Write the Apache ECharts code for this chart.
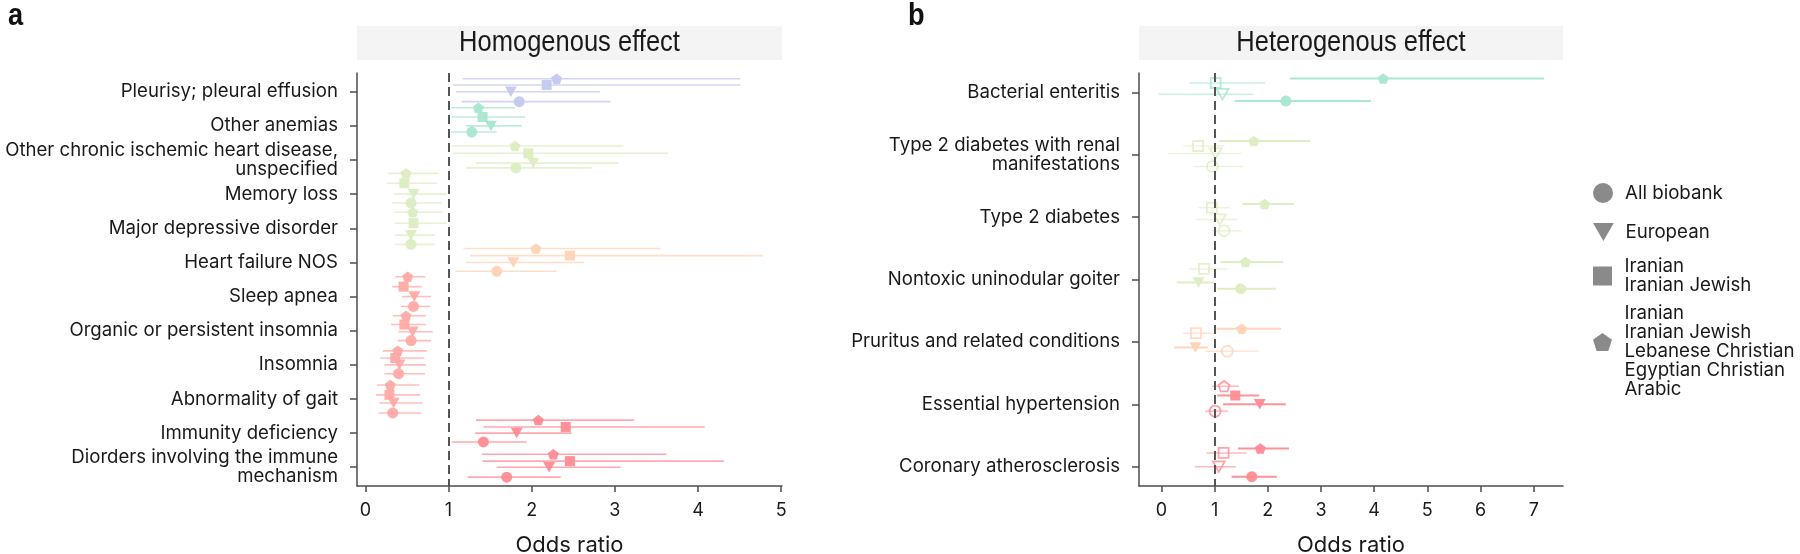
<!DOCTYPE html>
<html><head><meta charset="utf-8">
<script src="https://cdn.jsdelivr.net/npm/echarts@6/dist/echarts.min.js"></script>
<style>html,body{margin:0;padding:0;background:#fff}#c{width:1800px;height:554px}</style>
</head><body><div id="c"></div><script>
// ---------- categories ----------
const catsA = ['Pleurisy; pleural effusion','Other anemias','Other chronic ischemic heart disease,\nunspecified','Memory loss','Major depressive disorder','Heart failure NOS','Sleep apnea','Organic or persistent insomnia','Insomnia','Abnormality of gait','Immunity deficiency','Diorders involving the immune\nmechanism'];
const catsB = ['Bacterial enteritis','Type 2 diabetes with renal\nmanifestations','Type 2 diabetes','Nontoxic uninodular goiter','Pruritus and related conditions','Essential hypertension','Coronary atherosclerosis'];
const groupNames = ['All biobank','European','Iranian\nIranian Jewish','Iranian\nIranian Jewish\nLebanese Christian\nEgyptian Christian\nArabic'];
const xTicksA = [0,1,2,3,4,5];
const xTicksB = [0,1,2,3,4,5,6,7];
const panelTitles = ['Homogenous effect','Heterogenous effect'];
const panelLetters = ['a','b'];

// colour group per category (index into palette)
const colA = [0,1,2,2,2,3,4,4,4,4,5,5];
const colB = [1,2,2,2,3,5,5];

// ---------- panel a (homogenous) ----------
const aCircleOR = [1.85,1.28,1.81,0.55,0.55,1.58,0.58,0.55,0.40,0.33,1.42,1.70];
const aCircleLo = [1.16,1.03,1.21,0.32,0.36,1.08,0.43,0.39,0.23,0.16,1.04,1.23];
const aCircleHi = [2.95,1.58,2.72,0.92,0.84,2.30,0.78,0.79,0.72,0.67,1.94,2.35];
const aCircleDy = [0.29,0.18,0.23,0.26,0.47,0.26,0.29,0.29,0.26,0.41,0.26,0.29];

const aTriOR = [1.75,1.51,2.02,0.58,0.55,1.78,0.59,0.57,0.41,0.34,1.82,2.21];
const aTriLo = [1.09,1.21,1.33,0.34,0.36,1.21,0.44,0.40,0.23,0.17,1.32,1.58];
const aTriHi = [2.82,1.88,3.04,0.98,0.84,2.63,0.79,0.81,0.73,0.69,2.48,3.07];
const aTriDy = [0,0,0.09,0,0.20,0,0,0.03,0,0.12,0,0];

const aSqOR = [2.18,1.41,1.96,0.47,0.58,2.46,0.46,0.47,0.36,0.29,2.41,2.46];
const aSqLo = [1.05,1.04,1.05,0.26,0.35,1.26,0.32,0.31,0.18,0.13,1.42,1.41];
const aSqHi = [4.51,1.92,3.64,0.86,0.98,4.78,0.68,0.73,0.71,0.66,4.08,4.31];
const aSqDy = [-0.20,-0.26,-0.20,-0.32,-0.15,-0.20,-0.29,-0.18,-0.20,-0.12,-0.18,-0.18];

const aPentOR = [2.30,1.36,1.80,0.49,0.57,2.05,0.51,0.49,0.39,0.30,2.08,2.26];
const aPentLo = [1.17,1.03,1.04,0.27,0.35,1.18,0.36,0.33,0.21,0.14,1.33,1.40];
const aPentHi = [4.51,1.80,3.10,0.88,0.93,3.55,0.72,0.73,0.74,0.65,3.23,3.62];
const aPentDy = [-0.38,-0.53,-0.41,-0.61,-0.47,-0.41,-0.58,-0.44,-0.41,-0.41,-0.38,-0.38];

// ---------- panel b (heterogenous) ; sig: 1 = filled, 0 = hollow ----------
const bCircleOR = [2.34,0.96,1.18,1.49,1.24,1.01,1.70];
const bCircleLo = [1.38,0.61,0.94,1.05,0.83,0.82,1.32];
const bCircleHi = [3.94,1.53,1.51,2.15,1.83,1.25,2.17];
const bCircleDy = [0.14,0.19,0.22,0.15,0.15,0.11,0.16];
const bCircleSig = [1,0,0,1,0,0,1];

const bTriOR = [1.15,1.02,1.10,0.70,0.64,1.85,1.08];
const bTriLo = [-0.05,0.12,0.66,0.29,0.24,1.16,0.63];
const bTriHi = [1.73,1.51,1.42,0.99,0.88,2.34,1.40];
const bTriDy = [0.03,-0.02,0.04,0.05,0.09,0,0];
const bTriSig = [0,0,0,1,1,1,0];

const bSqOR = [1.02,0.69,0.95,0.80,0.65,1.39,1.17];
const bSqLo = [0.54,0.41,0.70,0.52,0.41,1.05,0.85];
const bSqHi = [1.95,1.19,1.29,1.24,1.00,1.84,1.60];
const bSqDy = [-0.15,-0.14,-0.15,-0.17,-0.14,-0.14,-0.22];
const bSqSig = [0,0,0,0,0,1,0];

const bPentOR = [4.17,1.74,1.94,1.58,1.51,1.18,1.86];
const bPentLo = [2.42,1.09,1.53,1.11,1.04,0.95,1.44];
const bPentHi = [7.19,2.80,2.49,2.29,2.25,1.46,2.40];
const bPentDy = [-0.22,-0.22,-0.21,-0.28,-0.21,-0.29,-0.29];
const bPentSig = [1,1,1,1,1,0,1];

// ---------- styles ----------
const PAL = ['#c4c8ee','#a8e6cf','#dcedc1','#ffd3b6','#ffaaa5','#ff8b94'];
const FONT = 'Inter';
const AX = '#4d4d4d';
const SYM = {
  circle: {symbol:'circle', size:11},
  tri: {symbol:'path://M0,0L20,0L10,17.3Z', size:[12,10.5]},
  square: {symbol:'rect', size:10},
  pent: {symbol:'path://M50,0L100,36.3L80.9,95.1L19.1,95.1L0,36.3Z', size:[11,10.5]}
};

const groupsA = [
  {name:groupNames[3], shape:'pent', or:aPentOR, lo:aPentLo, hi:aPentHi, dy:aPentDy},
  {name:groupNames[2], shape:'square', or:aSqOR, lo:aSqLo, hi:aSqHi, dy:aSqDy},
  {name:groupNames[1], shape:'tri', or:aTriOR, lo:aTriLo, hi:aTriHi, dy:aTriDy},
  {name:groupNames[0], shape:'circle', or:aCircleOR, lo:aCircleLo, hi:aCircleHi, dy:aCircleDy}
];
const groupsB = [
  {name:groupNames[3], shape:'pent', or:bPentOR, lo:bPentLo, hi:bPentHi, dy:bPentDy, sig:bPentSig},
  {name:groupNames[2], shape:'square', or:bSqOR, lo:bSqLo, hi:bSqHi, dy:bSqDy, sig:bSqSig},
  {name:groupNames[1], shape:'tri', or:bTriOR, lo:bTriLo, hi:bTriHi, dy:bTriDy, sig:bTriSig},
  {name:groupNames[0], shape:'circle', or:bCircleOR, lo:bCircleLo, hi:bCircleHi, dy:bCircleDy, sig:bCircleSig}
];

function errData(groups, cols, panel) {
  const out = [];
  groups.forEach(g => g.or.forEach((_, i) => {
    out.push([g.lo[i], g.hi[i], i + 1 + g.dy[i], cols[i], g.sig ? g.sig[i] : 1, panel]);
  }));
  return out;
}
function errSeries(groups, cols, k) {
  return {
    type:'custom', xAxisIndex:k, yAxisIndex:k, z:2, silent:true, clip:true,
    encode:{x:[0,1], y:2},
    data: errData(groups, cols, k),
    renderItem(params, api) {
      const y = api.value(2);
      const a = api.coord([api.value(0), y]);
      const b = api.coord([api.value(1), y]);
      const sig = api.value(4);
      const pb = api.value(5) === 1;
      return {type:'line', shape:{x1:a[0], y1:a[1], x2:b[0], y2:b[1]},
        style:{stroke: PAL[api.value(3)], lineWidth: pb ? (sig ? 2 : 1.5) : 1.6, opacity: pb ? (sig ? 0.95 : 0.6) : 0.75}};
    }
  };
}
function scatterSeries(g, cols, k) {
  const s = SYM[g.shape];
  return {
    type:'scatter', name:g.name, xAxisIndex:k, yAxisIndex:k, z:3,
    symbol:s.symbol, symbolSize:s.size, silent:true,
    data: g.or.map((v, i) => {
      const c = PAL[cols[i]];
      const filled = g.sig ? g.sig[i] === 1 : true;
      return {value:[v, i + 1 + g.dy[i]],
        itemStyle: filled ? {color:c, opacity:0.95} : {color:'rgba(255,255,255,0)', borderColor:c, borderWidth:1.8}};
    })
  };
}
function refLine(k) {
  return {type:'scatter', xAxisIndex:k, yAxisIndex:k, data:[], z:1, silent:true,
    markLine:{silent:true, symbol:'none', label:{show:false},
      lineStyle:{color:'#555', width:2, type:[9,5]}, data:[{xAxis:1}]}};
}
function xAxis(k, min, max, ticks) {
  return {type:'value', gridIndex:k, min, max, splitLine:{show:false},
    axisLine:{lineStyle:{color:AX, width:1.5}},
    axisTick:{customValues:ticks, length:6, lineStyle:{color:AX, width:1.5}},
    axisLabel:{customValues:ticks, margin:16, color:'#1a1a1a', fontFamily:FONT, fontSize:18},
    name:'Odds ratio', nameLocation:'middle', nameGap:48,
    nameTextStyle:{color:'#1a1a1a', fontFamily:FONT, fontSize:22}};
}
function yAxis(k, cats, min, max) {
  const ticks = cats.map((_, i) => i + 1);
  return {type:'value', gridIndex:k, inverse:true, min, max, splitLine:{show:false},
    axisLine:{onZero:false, lineStyle:{color:AX, width:1.5}},
    axisTick:{customValues:ticks, length:7, lineStyle:{color:AX, width:1.5}},
    axisLabel:{customValues:ticks, margin:19, color:'#1a1a1a', fontFamily:FONT, fontSize:18.6, lineHeight:19, align:'right',
      formatter:v => cats[Math.round(v) - 1]}};
}

const gridA = {left:357, top:73, width:425, height:413, containLabel:false, outerBoundsMode:'none'};
const gridB = {left:1139, top:73, width:424, height:413, containLabel:false, outerBoundsMode:'none'};

function strip(g, text) {
  return [
    {type:'rect', left:g.left, top:26, shape:{width:g.width, height:34}, style:{fill:'#f4f4f4'}, silent:true},
    {type:'text', x:g.left + g.width/2, y:43, scaleX:0.88, originX:0, originY:0,
      style:{text, fill:'#1a1a1a', font:'29px "Liberation Sans", Arial, sans-serif', align:'center', verticalAlign:'middle'}, silent:true}
  ];
}
function letter(x, text) {
  return {type:'text', x, y:0, scaleX:0.85, originX:0, originY:0,
    style:{text, fill:'#111', font:'bold 32px "Liberation Sans", Arial, sans-serif', align:'left', verticalAlign:'top'}, silent:true};
}

// legend icons (paths keep their aspect inside the wider legend box)
const legendIcons = ['circle', SYM.tri.symbol, 'path://M0,0L10,0L10,10L0,10Z', SYM.pent.symbol];
const legendIconH = [20, 18, 19, 18];
const legendCenters = [193, 232, 276, 342];
const legendLines = [1, 1, 2, 5];
const legendLead = ['', '', '', '\n'];
const legends = groupNames.map((n, i) => {
  const lines = legendLines[i] + (legendLead[i] ? 1 : 0);
  const ih = legendIconH[i];
  const h = Math.max(ih, lines * 19);
  return {
    left:1593, top: legendCenters[i] - h/2, orient:'vertical', padding:0, selectedMode:false,
    itemWidth:34, itemHeight:ih, symbolKeepAspect:true,
    formatter: name => legendLead[i] + name,
    data:[{name:n, icon:legendIcons[i], itemStyle:{color:'#8a8a8a', borderWidth:0, opacity:1}}],
    textStyle:{color:'#1a1a1a', fontFamily:FONT, fontSize:18.7, lineHeight:19}
  };
});

const chart = echarts.init(document.getElementById('c'), null, {renderer:'canvas'});
chart.setOption({
  animation:false,
  backgroundColor:'#fff',
  grid:[gridA, gridB],
  xAxis:[xAxis(0, -0.1, 5.01, xTicksA), xAxis(1, -0.42, 7.55, xTicksB)],
  yAxis:[yAxis(0, catsA, 0.45, 12.55), yAxis(1, catsB, 0.69, 7.31)],
  legend: legends,
  graphic: [...strip(gridA, panelTitles[0]), ...strip(gridB, panelTitles[1]), letter(8, panelLetters[0]), letter(908, panelLetters[1])],
  series:[
    refLine(0), refLine(1),
    errSeries(groupsA, colA, 0), errSeries(groupsB, colB, 1),
    ...groupsA.map(g => scatterSeries(g, colA, 0)),
    ...groupsB.map(g => scatterSeries(g, colB, 1))
  ]
});
</script></body></html>
